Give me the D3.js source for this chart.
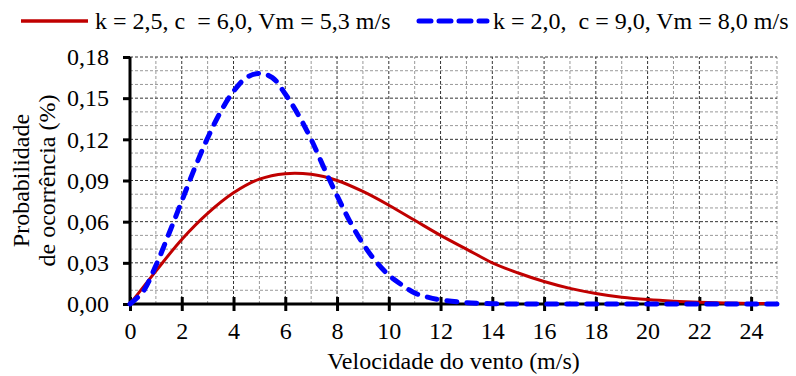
<!DOCTYPE html>
<html>
<head>
<meta charset="utf-8">
<script src="https://cdn.jsdelivr.net/npm/d3@7"></script>
<style>
  body { margin: 0; background: #fff; }
  svg text { font-family: "Liberation Serif", "Times New Roman", serif; fill: #000; }
</style>
</head>
<body>
<div id="chart"></div>
<script>
// wind speed (m/s)
const speeds = d3.range(0, 26);
const speedsFine = [0, 0.5, 1, 1.5, 2, 2.5, 3, 3.5, 4, 4.5, 5, 5.5, 6, 6.5, 7, 7.5, 8, 8.5, 9, 9.5,
  10, 10.5, 11, 11.5, 12, 13, 14, 15, 16, 17, 18, 19, 20, 21, 22, 23, 24, 25];

// red solid curve (values at integer speeds)
const redValues = [0, 0.024, 0.047, 0.066, 0.081, 0.091, 0.095, 0.0945, 0.090, 0.082,
  0.072, 0.061, 0.050, 0.040, 0.030, 0.0226, 0.0164, 0.0114, 0.0077, 0.005,
  0.0032, 0.002, 0.0012, 0.0007, 0.0004, 0.0002];

// blue dashed curve (values at speedsFine)
const blueValues = [0, 0.009, 0.028, 0.051, 0.075, 0.099, 0.121, 0.140, 0.155, 0.165,
  0.168, 0.165, 0.153, 0.138, 0.120, 0.099, 0.079, 0.060, 0.044, 0.031,
  0.021, 0.014, 0.008, 0.005, 0.003, 0.001, 0.0002, 0, 0, 0, 0, 0, 0, 0, 0, 0, 0, 0];

const xTicks = d3.range(0, 25, 2);
const yTicks = [0, 0.03, 0.06, 0.09, 0.12, 0.15, 0.18];
const legendLabels = ["k = 2,5, c  = 6,0, Vm = 5,3 m/s", "k = 2,0,  c = 9,0, Vm = 8,0 m/s"];

const W = 796, H = 376;
const margin = { left: 130, right: 19, top: 57, bottom: 72 };
const fs = "24px";

const svg = d3.select("#chart").append("svg")
  .attr("width", W).attr("height", H);

const x = d3.scaleLinear().domain([0, 25]).range([margin.left, W - margin.right]);
const y = d3.scaleLinear().domain([0, 0.18]).range([H - margin.bottom, margin.top]);

const fmt = d => d3.format(".2f")(d).replace(".", ",");

// grid: minor and major dashed lines
const grid = svg.append("g");
d3.range(1, 26).forEach(v => {
  const major = v % 2 === 0;
  grid.append("line")
    .attr("x1", x(v)).attr("x2", x(v))
    .attr("y1", y(0)).attr("y2", y(0.18))
    .attr("stroke", major ? "#333" : "#999")
    .attr("stroke-width", 1)
    .attr("stroke-dasharray", "3,2");
});
d3.range(1, 19).forEach(i => {
  const v = i / 100;
  const major = i % 3 === 0;
  grid.append("line")
    .attr("x1", x(0)).attr("x2", x(25))
    .attr("y1", y(v)).attr("y2", y(v))
    .attr("stroke", major ? "#333" : "#999")
    .attr("stroke-width", 1)
    .attr("stroke-dasharray", "3,2");
});

// y axis
const yAxis = svg.append("g")
  .attr("transform", `translate(${x(0)},0)`)
  .call(d3.axisLeft(y).tickValues(yTicks).tickFormat(fmt).tickSize(7).tickPadding(14));
yAxis.select(".domain").attr("stroke", "#000").attr("stroke-width", 3)
  .attr("d", `M0,${y(0.18)}V${y(0)}`);
yAxis.selectAll(".tick line").attr("stroke", "#000").attr("stroke-width", 3);
yAxis.selectAll(".tick text").style("font-size", fs)
  .style("font-family", "Liberation Serif");

// x axis
const xAxis = svg.append("g")
  .attr("transform", `translate(0,${y(0)})`)
  .call(d3.axisBottom(x).tickValues(xTicks).tickSize(0).tickPadding(18));
xAxis.select(".domain").attr("stroke", "#000").attr("stroke-width", 3)
  .attr("d", `M${x(0)},0H${x(25)}`);
xAxis.selectAll(".tick line").attr("y1", -7).attr("y2", 7)
  .attr("stroke", "#000").attr("stroke-width", 3);
xAxis.selectAll(".tick text").style("font-size", fs)
  .style("font-family", "Liberation Serif");

// curves
const line = d3.line().x(d => x(d[0])).y(d => y(Math.max(0, d[1])))
  .curve(d3.curveCatmullRom.alpha(0.5));

svg.append("path")
  .datum(speeds.map((s, i) => [s, redValues[i]]))
  .attr("d", line)
  .attr("fill", "none")
  .attr("stroke", "#c00000")
  .attr("stroke-width", 3);

svg.append("path")
  .datum(speedsFine.map((s, i) => [s, blueValues[i]]))
  .attr("d", line)
  .attr("fill", "none")
  .attr("stroke", "#0000ff")
  .attr("stroke-width", 5)
  .attr("stroke-linecap", "round")
  .attr("stroke-dasharray", "10,10");

// axis titles
svg.append("text")
  .attr("x", (x(0) + x(25)) / 2).attr("y", 369)
  .attr("text-anchor", "middle")
  .style("font-size", fs)
  .text("Velocidade do vento (m/s)");

const yTitle = svg.append("text")
  .attr("transform", `translate(29,${(y(0) + y(0.18)) / 2}) rotate(-90)`)
  .attr("text-anchor", "middle")
  .style("font-size", fs);
yTitle.append("tspan").attr("x", 0).attr("dy", 0).text("Probabilidade");
yTitle.append("tspan").attr("x", 0).attr("dy", 26).text("de ocorrência (%)");

// legend
const legend = svg.append("g");
legend.append("line")
  .attr("x1", 21).attr("x2", 88).attr("y1", 21).attr("y2", 21)
  .attr("stroke", "#c00000").attr("stroke-width", 3.5);
legend.append("text")
  .attr("x", 95).attr("y", 29)
  .attr("xml:space", "preserve")
  .style("white-space", "pre")
  .style("font-size", fs)
  .text(legendLabels[0]);
legend.append("line")
  .attr("x1", 419).attr("x2", 487).attr("y1", 21).attr("y2", 21)
  .attr("stroke", "#0000ff").attr("stroke-width", 5)
  .attr("stroke-linecap", "round")
  .attr("stroke-dasharray", "12,8");
legend.append("text")
  .attr("x", 493).attr("y", 29)
  .attr("xml:space", "preserve")
  .style("white-space", "pre")
  .style("font-size", fs)
  .text(legendLabels[1]);
</script>
</body>
</html>
